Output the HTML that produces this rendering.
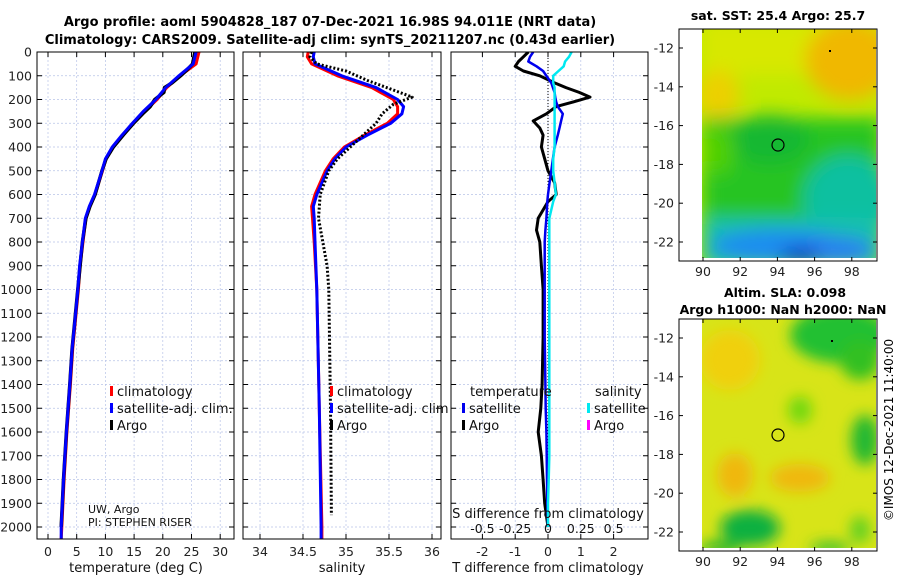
<!DOCTYPE html>
<html><head><meta charset="utf-8">
<style>
html,body{margin:0;padding:0;background:#fff;}
svg{display:block;font-family:"DejaVu Sans","Liberation Sans",sans-serif;}
</style></head>
<body>
<svg id="fig" width="900" height="580" viewBox="0 0 900 580">
<defs>
<filter id="blur1" x="-20%" y="-20%" width="140%" height="140%"><feGaussianBlur stdDeviation="9"/></filter>
<filter id="blur2" x="-20%" y="-20%" width="140%" height="140%"><feGaussianBlur stdDeviation="7"/></filter>
<clipPath id="clipM1"><rect x="702" y="29" width="174" height="229"/></clipPath>
<clipPath id="clipM2"><rect x="702" y="319" width="174" height="229"/></clipPath>
<clipPath id="clipP1"><rect x="37" y="52" width="197" height="487"/></clipPath>
<clipPath id="clipP2"><rect x="243" y="52" width="198" height="487"/></clipPath>
<clipPath id="clipP3"><rect x="451" y="52" width="197" height="487"/></clipPath>
</defs>
<text x="330" y="26" font-size="13" font-weight="bold" text-anchor="middle">Argo profile: aoml 5904828_187 07-Dec-2021 16.98S 94.011E (NRT data)</text>
<text x="330" y="44" font-size="13" font-weight="bold" text-anchor="middle">Climatology: CARS2009. Satellite-adj clim: synTS_20211207.nc (0.43d earlier)</text>

<!-- map 1 -->
<g>
<g clip-path="url(#clipM1)">
<rect x="702" y="29" width="174" height="229" fill="#c0ea00"/>
<g filter="url(#blur1)">
<rect x="702" y="20" width="180" height="55" fill="#d8e800"/>
<ellipse cx="850" cy="60" rx="45" ry="40" fill="#f0b800"/>
<ellipse cx="718" cy="95" rx="22" ry="25" fill="#ecd000"/>
<rect x="702" y="118" width="180" height="105" fill="#28c420"/>
<ellipse cx="770" cy="140" rx="40" ry="25" fill="#14b830"/>
<ellipse cx="718" cy="150" rx="16" ry="25" fill="#50d000"/>
<ellipse cx="848" cy="200" rx="45" ry="45" fill="#10c0a0"/>
<rect x="702" y="218" width="180" height="50" fill="#14c0b0"/>
<ellipse cx="780" cy="246" rx="70" ry="17" fill="#1e8cf0"/>
<ellipse cx="835" cy="250" rx="40" ry="14" fill="#2a80f0"/>
<ellipse cx="800" cy="256" rx="20" ry="8" fill="#1030c0"/>
</g>
</g>
<rect x="679" y="29" width="198" height="232" fill="none" stroke="#000" stroke-width="1"/>
<circle cx="778" cy="145" r="6" fill="none" stroke="#000" stroke-width="1.2"/>
<rect x="829" y="50" width="2" height="2" fill="#000"/>
</g>
<text x="778" y="20" font-size="12.5" font-weight="bold" text-anchor="middle">sat. SST: 25.4 Argo: 25.7</text>

<!-- map 2 -->
<g>
<g clip-path="url(#clipM2)">
<rect x="702" y="319" width="174" height="229" fill="#d8e418"/>
<g filter="url(#blur2)">
<ellipse cx="730" cy="360" rx="30" ry="30" fill="#f0d010"/>
<ellipse cx="840" cy="335" rx="50" ry="28" fill="#20c030"/>
<ellipse cx="860" cy="360" rx="20" ry="20" fill="#30c020"/>
<ellipse cx="800" cy="410" rx="12" ry="14" fill="#70d810"/>
<ellipse cx="865" cy="440" rx="14" ry="25" fill="#20b830"/>
<ellipse cx="735" cy="475" rx="18" ry="22" fill="#f0b810"/>
<ellipse cx="800" cy="478" rx="30" ry="14" fill="#f0b810"/>
<ellipse cx="750" cy="528" rx="30" ry="18" fill="#10b040"/>
<ellipse cx="720" cy="548" rx="20" ry="6" fill="#10b030"/>
<ellipse cx="830" cy="548" rx="20" ry="6" fill="#30c030"/>
<ellipse cx="860" cy="530" rx="10" ry="14" fill="#60d020"/>
</g>
</g>
<rect x="679" y="319" width="198" height="232" fill="none" stroke="#000" stroke-width="1"/>
<circle cx="778" cy="435" r="6" fill="none" stroke="#000" stroke-width="1.2"/>
<rect x="831" y="340" width="2" height="2" fill="#000"/>
</g>
<text x="785" y="297" font-size="12.5" font-weight="bold" text-anchor="middle">Altim. SLA: 0.098</text>
<text x="783" y="314" font-size="12.5" font-weight="bold" text-anchor="middle">Argo h1000: NaN h2000: NaN</text>
<text transform="translate(893,430) rotate(-90)" font-size="12" text-anchor="middle">©IMOS 12-Dec-2021 11:40:00</text>

<g id="plots"></g>
</svg>
<script>
// ---- data ----
const depthTicks = [0,100,200,300,400,500,600,700,800,900,1000,1100,1200,1300,1400,1500,1600,1700,1800,1900,2000];
const tempTicks = [0,5,10,15,20,25,30];
const salTicks = [34,34.5,35,35.5,36];
const salTickLabels = ["34","34.5","35","35.5","36"];
const dTTicks = [-2,-1,0,1,2];
const dSTicks = [-0.5,-0.25,0,0.25,0.5];
const dSTickLabels = ["-0.5","-0.25","0","0.25","0.5"];

const tClimDepth = [0,50,100,150,200,250,300,350,400,450,500,600,650,700,800,900,1000,1100,1250,1400,1600,1800,2000,2050];
const tClim      = [26.3,25.8,23.0,20.7,19.0,16.8,14.8,13.0,11.3,10.1,9.5,8.2,7.3,6.6,6.1,5.6,5.3,4.9,4.3,3.9,3.3,2.8,2.4,2.3];
const tSat       = [25.8,25.3,22.8,20.5,18.8,16.6,14.7,12.9,11.2,10.0,9.4,8.1,7.2,6.5,6.0,5.5,5.2,4.8,4.2,3.8,3.2,2.7,2.3,2.3];
const tArgoDepth = [0,50,80,100,130,150,170,200,230,260,300,350,400,450,500,600,650,700,800,1000,1250,1400,1600,1800,2000];
const tArgo      = [25.6,25.2,24.0,23.1,21.6,20.3,20.2,18.6,17.8,16.5,14.9,13.1,11.4,10.1,9.4,8.2,7.3,6.6,6.0,5.2,4.2,3.8,3.2,2.7,2.3];

const sClimDepth = [0,20,50,100,150,200,230,260,300,350,400,450,500,600,650,700,800,1000,1500,2000,2050];
const sClim      = [34.56,34.55,34.6,34.9,35.3,35.55,35.6,35.6,35.48,35.22,34.98,34.85,34.76,34.64,34.6,34.61,34.63,34.66,34.69,34.72,34.72];
const sSat       = [34.63,34.62,34.64,34.95,35.35,35.6,35.67,35.65,35.52,35.25,35.0,34.87,34.78,34.66,34.62,34.63,34.64,34.66,34.69,34.71,34.71];
const sArgoDepth = [0,20,50,80,120,160,190,220,260,300,350,400,450,500,600,700,800,900,1000,1500,1950];
const sArgo      = [34.6,34.58,34.66,35.0,35.25,35.55,35.77,35.55,35.42,35.35,35.2,35.05,34.9,34.8,34.7,34.68,34.73,34.78,34.8,34.82,34.83];

const dDepth  = [0,20,40,60,80,100,130,150,170,190,210,230,260,290,320,350,400,450,500,550,600,630,700,750,800,900,1000,1200,1400,1500,1600,1700,1800,1900,2000];
const dTArgo  = [-0.6,-0.75,-0.9,-1.0,-0.75,-0.25,0.2,0.55,0.95,1.28,0.77,0.25,-0.05,-0.45,-0.25,-0.15,-0.2,-0.1,0.0,0.2,0.25,0.0,-0.3,-0.35,-0.25,-0.2,-0.15,-0.15,-0.18,-0.22,-0.3,-0.2,-0.15,-0.1,0.0];
const dTSat   = [-0.45,-0.55,-0.6,-0.35,-0.15,-0.05,0.1,0.15,0.2,0.22,0.25,0.3,0.45,0.4,0.35,0.3,0.2,0.15,0.1,0.05,0.0,-0.02,-0.05,-0.08,-0.1,-0.1,-0.1,-0.1,-0.08,-0.07,-0.05,-0.04,-0.03,-0.02,0.0];
const dSSat   = [0.18,0.16,0.13,0.12,0.08,0.04,0.04,0.05,0.05,0.05,0.05,0.05,0.05,0.05,0.05,0.05,0.05,0.04,0.04,0.05,0.06,0.04,0.01,0.01,0.01,0.01,0.01,0.01,0.01,0.01,0.01,0.01,0.005,0.0,0.0];

const mapLonTicks = [90,92,94,96,98];
const mapLatTicks = [-12,-14,-16,-18,-20,-22];

// ---- helpers ----
const NS="http://www.w3.org/2000/svg";
const root=document.getElementById('plots');
function mk(tag,attrs,parent){const e=document.createElementNS(NS,tag);for(const k in attrs)e.setAttribute(k,attrs[k]);(parent||root).appendChild(e);return e;}
const yD = d => 52 + d*(475/2000);
const panels = [
 {x0:37,x1:234,clip:'clipP1',name:'temperature-panel',sx:v=>48+v*5.74},
 {x0:243,x1:441,clip:'clipP2',name:'salinity-panel',sx:v=>260+(v-34)*86},
 {x0:451,x1:648,clip:'clipP3',name:'difference-panel',sx:v=>548+v*32.8}
];
const sxS = v => 548 + v*131.2;

function line(xs,ds,sx,attrs,name,g){
  const pts=xs.map((v,i)=>sx(v).toFixed(1)+','+yD(ds[i]).toFixed(1)).join(' ');
  const p=mk('polyline',Object.assign({points:pts,fill:'none','stroke-linejoin':'round'},attrs),g);
  
  
}

const xTickSets=[[tempTicks,tempTicks.map(String)],[salTicks,salTickLabels],[dTTicks,dTTicks.map(String)]];
panels.forEach((P,pi)=>{
  const g=mk('g',{});
  
  
  const [tv,tl]=xTickSets[pi];
  depthTicks.forEach(d=>{mk('line',{x1:P.x0,x2:P.x1,y1:yD(d),y2:yD(d),stroke:'#b8c4e8','stroke-width':0.7,'stroke-dasharray':'2,2'},g);
    mk('line',{x1:P.x0,x2:P.x0+5,y1:yD(d),y2:yD(d),stroke:'#000'},g);
    mk('line',{x1:P.x1-5,x2:P.x1,y1:yD(d),y2:yD(d),stroke:'#000'},g);});
  tv.forEach((v,i)=>{const x=P.sx(v);
    mk('line',{x1:x,x2:x,y1:52,y2:539,stroke:'#b8c4e8','stroke-width':0.7,'stroke-dasharray':'2,2'},g);
    mk('line',{x1:x,x2:x,y1:539,y2:534,stroke:'#000'},g);
    mk('line',{x1:x,x2:x,y1:52,y2:57,stroke:'#000'},g);
    const t=mk('text',{x:x,y:556,'font-size':12.5,'text-anchor':'middle',fill:'#222'},g);t.textContent=tl[i];
    
    
  });
  if(pi===0){depthTicks.forEach(d=>{const t=mk('text',{x:32,y:yD(d)+4.5,'font-size':12.5,'text-anchor':'end',fill:'#222'},g);t.textContent=String(d);
    
    });}
  const lg=mk('g',{'clip-path':'url(#'+P.clip+')'},g);
  if(pi===0){
    line(tClim,tClimDepth,P.sx,{stroke:'#ff0000','stroke-width':3},'temp-climatology-line',lg);
    line(tArgo,tArgoDepth,P.sx,{stroke:'#000','stroke-width':3.5},'temp-argo-line',lg);
    line(tSat,tClimDepth,P.sx,{stroke:'#0000ff','stroke-width':3},'temp-satellite-line',lg);
  } else if(pi===1){
    line(sClim,sClimDepth,P.sx,{stroke:'#ff0000','stroke-width':3},'sal-climatology-line',lg);
    line(sSat,sClimDepth,P.sx,{stroke:'#0000ff','stroke-width':3},'sal-satellite-line',lg);
    line(sArgo,sArgoDepth,P.sx,{stroke:'#000','stroke-width':3,'stroke-dasharray':'2,2'},'sal-argo-line',lg);
  } else {
    mk('line',{x1:548,x2:548,y1:52,y2:539,stroke:'#000','stroke-dasharray':'1,2','stroke-width':1},lg);
    line(dTArgo,dDepth,P.sx,{stroke:'#000','stroke-width':3},'t-diff-argo-line',lg);
    line(dTSat,dDepth,P.sx,{stroke:'#0000ee','stroke-width':2.5},'t-diff-satellite-line',lg);
    line(dSSat,dDepth,sxS,{stroke:'#00e8f0','stroke-width':2.5},'s-diff-satellite-line',lg);
    dSTicks.forEach((v,i)=>{const t=mk('text',{x:sxS(v),y:533,'font-size':12.5,'text-anchor':'middle',fill:'#111'},g);t.textContent=dSTickLabels[i];
      
      });
    const st=mk('text',{x:548,y:518,'font-size':13,'text-anchor':'middle',fill:'#111'},g);st.textContent='S difference from climatology';
    
    
  }
  mk('rect',{x:P.x0,y:52,width:P.x1-P.x0,height:487,fill:'none',stroke:'#000','stroke-width':1},g);
});

function txt(x,y,s,fs,name,anchor){const t=mk('text',{x:x,y:y,'font-size':fs,'text-anchor':anchor||'start',fill:'#111'});t.textContent=s;
  
  return t;}
txt(136,572,'temperature (deg C)',13,'temperature-axis-title','middle');
txt(342,572,'salinity',13,'salinity-axis-title','middle');
txt(548,572,'T difference from climatology',13,'t-diff-axis-title','middle');
txt(88,513,'UW, Argo',11,'institution-label');
txt(88,526,'PI: STEPHEN RISER',11,'pi-label');

function legend(x,y,color,label,name){
  const m=mk('rect',{x:x,y:y-10,width:3,height:10,fill:color});
  
  
  txt(x+7,y,label,13,name);
}
legend(110,396,'#ff0000','climatology','legend-climatology');
legend(110,413,'#0000ff','satellite-adj. clim.','legend-satellite-adj');
legend(110,430,'#000','Argo','legend-argo');
legend(330,396,'#ff0000','climatology','legend-climatology-2');
legend(330,413,'#0000ff','satellite-adj. clim','legend-satellite-adj-2');
legend(330,430,'#000','Argo','legend-argo-2');
txt(470,396,'temperature',13,'legend-temperature-header');
txt(595,396,'salinity',13,'legend-salinity-header');
legend(462,413,'#0000ee','satellite','legend-t-satellite');
legend(462,430,'#000','Argo','legend-t-argo');
legend(587,413,'#00e8f0','satellite','legend-s-satellite');
legend(587,430,'#ff00ff','Argo','legend-s-argo');

const lonX = v => 703 + (v-90)*18.6;
[[48,'sst'],[338,'sla']].forEach(([y12,nm],mi)=>{
  const boxBottom = mi===0?261:551;
  const boxTop = mi===0?29:319;
  mapLatTicks.forEach(v=>{const y=y12+(-12-v)*19.4;
    mk('line',{x1:679,x2:683,y1:y,y2:y,stroke:'#000'});
    mk('line',{x1:873,x2:877,y1:y,y2:y,stroke:'#000'});
    const t=txt(674,y+4.5,String(v),12.5,nm+'-lat-tick','end');t.setAttribute('fill','#222');});
  mapLonTicks.forEach(v=>{const x=lonX(v);
    mk('line',{x1:x,x2:x,y1:boxBottom,y2:boxBottom-4,stroke:'#000'});
    mk('line',{x1:x,x2:x,y1:boxTop,y2:boxTop+4,stroke:'#000'});
    const t=txt(x,boxBottom+15,String(v),12.5,nm+'-lon-tick','middle');t.setAttribute('fill','#222');});
});
</script>
</body></html>
